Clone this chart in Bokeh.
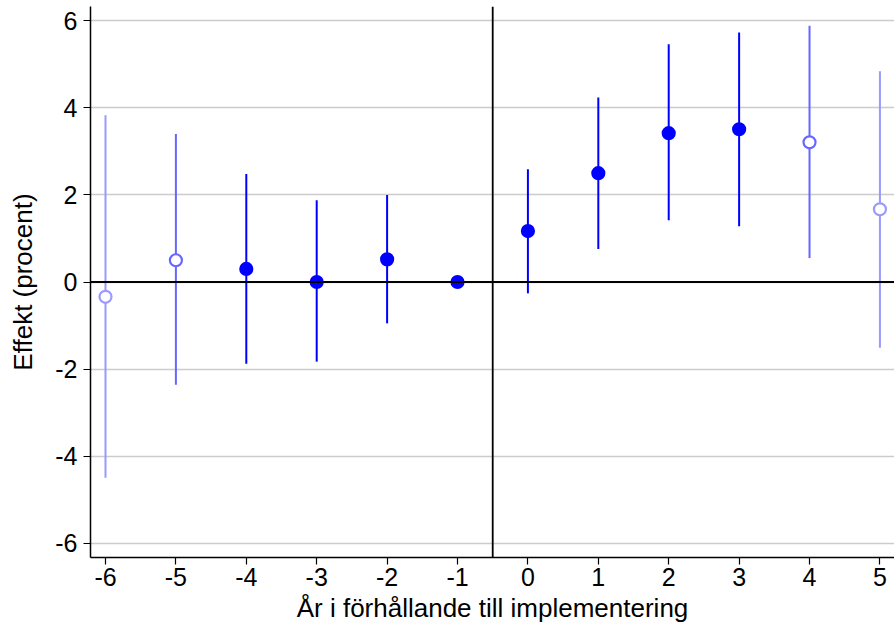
from bokeh.plotting import figure
from bokeh.models import Span, FixedTicker, ColumnDataSource
from bokeh.embed import file_html
from bokeh.resources import INLINE

# Data
years = [-6, -5, -4, -3, -2, -1, 0, 1, 2, 3, 4, 5]
estimates = [-0.34, 0.50, 0.30, 0.00, 0.52, 0.00, 1.17, 2.50, 3.42, 3.51, 3.21, 1.67]
lower = [-4.50, -2.36, -1.88, -1.83, -0.95, 0.00, -0.26, 0.76, 1.42, 1.28, 0.55, -1.51]
upper = [3.83, 3.40, 2.48, 1.88, 2.00, 0.00, 2.59, 4.24, 5.46, 5.73, 5.89, 4.84]
groups = ["faint", "partial", "full", "full", "full", "full",
          "full", "full", "full", "full", "partial", "faint"]
y_ticks = [-6, -4, -2, 0, 2, 4, 6]
x_ticks = years

color_map = {"full": "#0000ff", "partial": "#6666ff", "faint": "#9999ff"}
fill_map = {"full": "#0000ff", "partial": "white", "faint": "white"}

src = ColumnDataSource(dict(
    x=years, y=estimates, lo=lower, hi=upper,
    color=[color_map[g] for g in groups],
    fill=[fill_map[g] for g in groups],
))

FONT = "Liberation Sans"

p = figure(width=894, height=625, output_backend="svg", toolbar_location=None,
           x_range=(-6.213, 5.207), y_range=(-6.33, 6.33),
           min_border_left=90, min_border_right=0, min_border_top=6, min_border_bottom=10)
p.outline_line_color = None
p.background_fill_color = "white"
p.border_fill_color = "white"

p.xgrid.grid_line_color = None
p.ygrid.grid_line_color = "#cccccc"
p.ygrid.grid_line_width = 1.5

for ax in (p.xaxis, p.yaxis):
    ax.axis_line_color = "black"
    ax.axis_line_width = 1.5
    ax.major_tick_line_color = "black"
    ax.major_tick_line_width = 1.2
    ax.major_tick_out = 7
    ax.major_tick_in = 0
    ax.minor_tick_line_color = None
    ax.major_label_text_font = FONT
    ax.major_label_text_font_size = "25px"
    ax.major_label_text_color = "black"
    ax.axis_label_text_font = FONT
    ax.axis_label_text_font_size = "26px"
    ax.axis_label_text_font_style = "normal"
    ax.axis_label_text_color = "black"

p.xaxis.ticker = FixedTicker(ticks=x_ticks)
p.yaxis.ticker = FixedTicker(ticks=y_ticks)
p.xaxis.major_label_overrides = {t: str(t) for t in x_ticks}
p.yaxis.major_label_overrides = {t: str(t) for t in y_ticks}
p.xaxis.axis_label = "År i förhållande till implementering"
p.yaxis.axis_label = "Effekt (procent)"
p.yaxis.major_label_orientation = "horizontal"
p.xaxis.major_label_standoff = 3
p.yaxis.major_label_standoff = 6
p.xaxis.axis_label_standoff = 4
p.yaxis.axis_label_standoff = 14

p.add_layout(Span(location=0, dimension="width", line_color="black", line_width=1.8))
p.add_layout(Span(location=-0.5, dimension="height", line_color="black", line_width=1.8))

p.segment(x0="x", y0="lo", x1="x", y1="hi", source=src, line_color="color", line_width=2)
p.scatter(x="x", y="y", source=src, size=12, fill_color="fill",
          line_color="color", line_width=2.2)

open("out.html", "w").write(file_html(p, INLINE))
